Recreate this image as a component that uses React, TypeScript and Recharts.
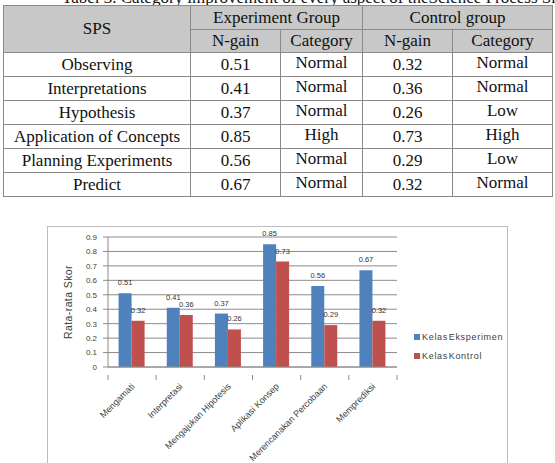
import React from "react";
import { BarChart, Bar, XAxis, YAxis, CartesianGrid, Legend, LabelList } from "recharts";

// chart data (Indonesian labels as in the figure)
const categories = [
  "Mengamati",
  "Interpretasi",
  "Mengajukan Hipotesis",
  "Aplikasi Konsep",
  "Merencanakan Percobaan",
  "Memprediksi",
];
const eksperimen = [0.51, 0.41, 0.37, 0.85, 0.56, 0.67];
const kontrol = [0.32, 0.36, 0.26, 0.73, 0.29, 0.32];
const yTicks = [0, 0.1, 0.2, 0.3, 0.4, 0.5, 0.6, 0.7, 0.8, 0.9];

// table text
const spsNames = [
  "Observing",
  "Interpretations",
  "Hypothesis",
  "Application of Concepts",
  "Planning Experiments",
  "Predict",
];
const expCategory = ["Normal", "Normal", "Normal", "High", "Normal", "Normal"];
const ctrlCategory = ["Normal", "Normal", "Low", "High", "Low", "Normal"];

const data = categories.map((name, i) => ({
  name,
  eks: eksperimen[i],
  kon: kontrol[i],
}));

const BLUE = "#4f81bd";
const RED = "#c0504d";
const CHART_W = 461;
const CHART_H = 240;
const Y_W = 60;
const M_RIGHT = 112;
const PLOT_W = CHART_W - Y_W - M_RIGHT;
const FONT = "'Liberation Sans', Arial, sans-serif";
const SERIF = "'Liberation Serif', 'Times New Roman', 'DejaVu Serif', serif";

const XTick = (props: any) => {
  const { x, y, payload, index } = props;
  const step = PLOT_W / categories.length;
  return (
    <g>
      <line x1={x - step / 2} x2={x - step / 2} y1={y} y2={y + 5} stroke="#8c8c8c" />
      {index === categories.length - 1 && (
        <line x1={x + step / 2} x2={x + step / 2} y1={y} y2={y + 5} stroke="#8c8c8c" />
      )}
      <text
        x={x + 3}
        y={y + 12}
        textAnchor="end"
        transform={`rotate(-45 ${x + 3} ${y + 12})`}
        fontSize={9}
        fill="#404040"
        fontFamily={FONT}
      >
        {payload.value}
      </text>
    </g>
  );
};

const LegendBox = () => (
  <div style={{ fontFamily: FONT, fontSize: 9, color: "#404040", letterSpacing: 0.7 }}>
    {[
      { c: BLUE, t: "Kelas Eksperimen" },
      { c: RED, t: "Kelas Kontrol" },
    ].map((it) => (
      <div key={it.t} style={{ display: "flex", alignItems: "center", height: 19, wordSpacing: -2.5 }}>
        <span style={{ width: 6, height: 6, background: it.c, marginRight: 2 }} />
        {it.t}
      </div>
    ))}
  </div>
);

const cell: React.CSSProperties = {
  border: "1px solid #8a8a8a",
  textAlign: "center",
  padding: 0,
  lineHeight: "20px",
  fontFamily: SERIF,
  fontSize: 17,
  color: "#111",
};

export default function App() {
  return (
    <div
      style={{
        position: "absolute",
        left: 0,
        top: 0,
        width: 555,
        height: 463,
        overflow: "hidden",
        background: "#fff",
        fontFamily: SERIF,
        color: "#111",
      }}
    >
      <div style={{ position: "absolute", left: 62, top: -12, fontSize: 17, whiteSpace: "nowrap", fontFamily: SERIF }}>
        Tabel 3. Category improvement of every aspect of theScience Process Skills
      </div>

      <table
        style={{
          position: "absolute",
          left: 3,
          top: 5,
          borderCollapse: "collapse",
          tableLayout: "fixed",
          width: 549,
          fontSize: 17,
          fontFamily: SERIF,
          background: "#fff",
        }}
      >
        <colgroup>
          <col style={{ width: 187 }} />
          <col style={{ width: 90 }} />
          <col style={{ width: 82 }} />
          <col style={{ width: 90 }} />
          <col style={{ width: 100 }} />
        </colgroup>
        <tbody>
          <tr style={{ height: 24, background: "#c8c8c8" }}>
            <td style={cell} rowSpan={2}>SPS</td>
            <td style={cell} colSpan={2}>Experiment Group</td>
            <td style={cell} colSpan={2}>Control group</td>
          </tr>
          <tr style={{ height: 23, background: "#c8c8c8" }}>
            <td style={cell}>N-gain</td>
            <td style={cell}>Category</td>
            <td style={cell}>N-gain</td>
            <td style={cell}>Category</td>
          </tr>
          {spsNames.map((n, i) => (
            <tr key={n} style={{ height: 24 }}>
              <td style={cell}>{n}</td>
              <td style={cell}>{eksperimen[i].toFixed(2)}</td>
              <td style={{ ...cell, verticalAlign: "top" }}>{expCategory[i]}</td>
              <td style={cell}>{kontrol[i].toFixed(2)}</td>
              <td style={{ ...cell, verticalAlign: "top" }}>{ctrlCategory[i]}</td>
            </tr>
          ))}
        </tbody>
      </table>

      <div
        style={{
          position: "absolute",
          left: 47,
          top: 226,
          width: CHART_W,
          height: CHART_H,
          border: "1px solid #bdbdbd",
          boxSizing: "border-box",
        }}
      >
        <BarChart
          width={CHART_W}
          height={CHART_H}
          data={data}
          margin={{ top: 10, right: M_RIGHT, left: 0, bottom: 0 }}
          barCategoryGap="22%"
          barGap={0}
        >
          <CartesianGrid vertical={false} stroke="#8c8c8c" />
          <YAxis
            width={Y_W}
            domain={[0, 0.9]}
            ticks={yTicks}
            interval={0}
            tickFormatter={(v: number) => (v === 0 ? "0" : v.toFixed(1))}
            tick={{ fontSize: 8, fill: "#404040", fontFamily: FONT }}
            stroke="#8c8c8c"
            tickSize={5}
            tickMargin={6}
            label={{
              value: "Rata-rata Skor",
              angle: -90,
              position: "insideLeft",
              offset: 20,
              style: { fontSize: 10.5, fill: "#404040", fontFamily: FONT, textAnchor: "middle", letterSpacing: 0.4 },
            }}
          />
          <XAxis
            dataKey="name"
            interval={0}
            tickLine={false}
            stroke="#8c8c8c"
            height={CHART_H - 10 - 130}
            tick={<XTick />}
          />
          <Legend
            content={<LegendBox />}
            layout="vertical"
            align="center"
            verticalAlign="middle"
            wrapperStyle={{ position: "absolute", left: 366, top: 100, width: 95 }}
          />
          <Bar dataKey="eks" name="Kelas Eksperimen" fill={BLUE} isAnimationActive={false}>
            <LabelList dataKey="eks" position="top" offset={8} fontSize={7.5} fill="#333" fontFamily={FONT} />
          </Bar>
          <Bar dataKey="kon" name="Kelas Kontrol" fill={RED} isAnimationActive={false}>
            <LabelList dataKey="kon" position="top" offset={8} fontSize={7.5} fill="#333" fontFamily={FONT} />
          </Bar>
        </BarChart>
      </div>
    </div>
  );
}
